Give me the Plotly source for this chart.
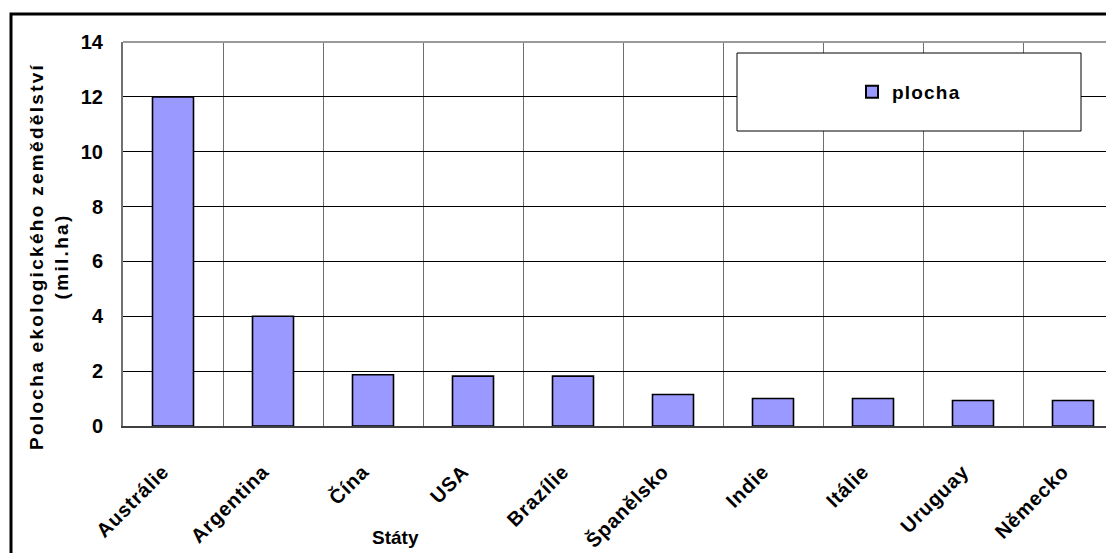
import plotly.graph_objects as go

# Organic farming area by country (million ha)
countries = ["Austrálie", "Argentina", "Čína", "USA", "Brazílie",
             "Španělsko", "Indie", "Itálie", "Uruguay", "Německo"]
area = [12.0, 4.0, 1.87, 1.82, 1.82, 1.15, 1.0, 1.0, 0.93, 0.93]
y_ticks = [0, 2, 4, 6, 8, 10, 12, 14]
series_name = "plocha"
y_title_lines = ["Polocha ekologického zemědělství", "(mil.ha)"]
x_title = "Státy"

W, H = 1106, 553
L, T, B = 123, 42, 127           # plot area margins in px
PW, PH = W - L, H - T - B        # plot area size
CAT = 100                        # px per category


def px_x(px):
    return (px - L) / PW


def px_y(py):
    return (H - B - py) / PH


def spaced(text, px):
    return f'<span style="letter-spacing:{px}px">{text}</span>'


FONT = "Liberation Sans, Arial, sans-serif"

fig = go.Figure()
fig.add_trace(go.Bar(
    x=countries, y=area, name=spaced(series_name, 1.2), width=0.41,
    marker=dict(color="#9999FF", line=dict(color="#000000", width=1.6)),
    showlegend=True,
))

x_hi = len(countries) - 0.5 - (L + CAT * len(countries) - W) / CAT

fig.update_layout(
    width=W, height=H,
    margin=dict(l=L, r=0, t=T, b=B),
    paper_bgcolor="white", plot_bgcolor="white",
    font=dict(family=FONT, size=16, color="black"),
    showlegend=True,
    legend=dict(x=px_x(909), y=px_y(92), xanchor="center", yanchor="middle",
                bgcolor="rgba(0,0,0,0)", borderwidth=0,
                font=dict(family=FONT, size=19, color="black", weight="bold"),
                itemsizing="constant", itemwidth=30),
    xaxis=dict(
        type="category", range=[-0.5, x_hi],
        tickvals=countries, ticktext=[spaced(c, 0.8) for c in countries],
        tickson="boundaries", ticks="", showgrid=True,
        gridcolor="#6e6e6e", gridwidth=1,
        tickangle=-45,
        tickfont=dict(family=FONT, size=20, color="black", weight="bold"),
        ticklabelstandoff=24, ticklabelshift=-10,
        showline=True, linecolor="#404040", linewidth=2,
    ),
    yaxis=dict(
        range=[0, 14], tickvals=y_ticks, ticks="",
        showgrid=True, gridcolor="#000000", gridwidth=1,
        zeroline=False,
        tickfont=dict(family=FONT, size=20, color="black", weight="bold"),
        ticklabelstandoff=14,
        showline=True, linecolor="#707070", linewidth=2,
    ),
    bargap=0.59,
)

# plot area top edge
fig.add_shape(type="line", xref="paper", yref="paper", x0=0, x1=1, y0=1, y1=1,
              line=dict(color="#9a9a9a", width=2), layer="above")

# outer chart frame (left and top edges)
fig.add_shape(type="path", xref="paper", yref="paper",
              path=f"M {px_x(11)},{px_y(600)} L {px_x(11)},{px_y(14)} L {px_x(1200)},{px_y(14)}",
              line=dict(color="#000000", width=3), layer="above")

# legend box
fig.add_shape(type="rect", xref="paper", yref="paper",
              x0=px_x(737), x1=px_x(1081), y0=px_y(131), y1=px_y(53),
              fillcolor="white", line=dict(color="#000000", width=1), layer="above")

# axis titles
y_title = "<br>".join(spaced(s, 2.3) for s in y_title_lines)
fig.add_annotation(text=f"<b>{y_title}</b>", xref="paper", yref="paper",
                   x=px_x(49), y=px_y(257), xanchor="center", yanchor="middle",
                   textangle=-90, showarrow=False,
                   font=dict(family=FONT, size=19, color="black"))
fig.add_annotation(text=f"<b>{x_title}</b>", xref="paper", yref="paper",
                   x=px_x(395), y=px_y(537), xanchor="center", yanchor="middle",
                   showarrow=False,
                   font=dict(family=FONT, size=19, color="black"))

fig.write_html("out.html")
